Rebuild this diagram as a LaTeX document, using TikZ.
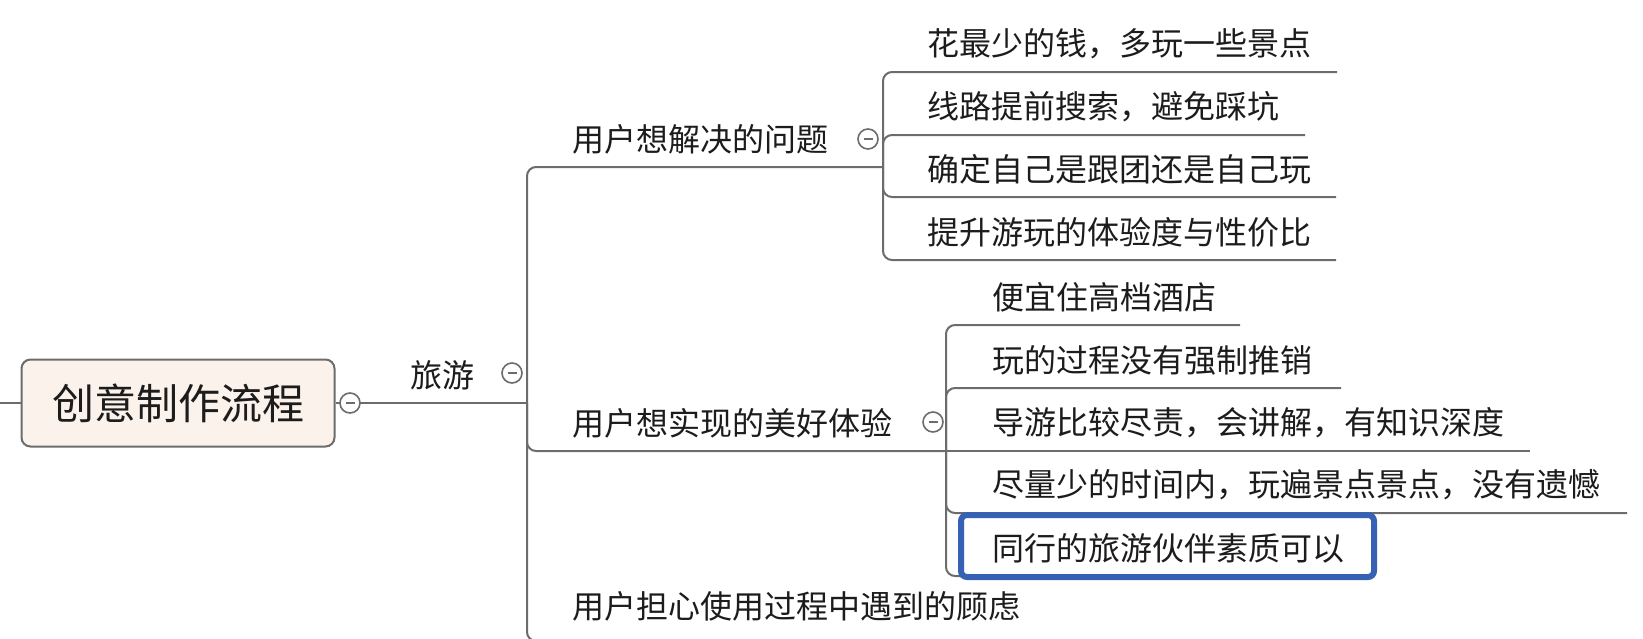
\documentclass[tikz,border=0pt]{standalone}
\usepackage{fontspec}
\newfontfamily\cjk{Noto Sans CJK SC}
\definecolor{lncol}{RGB}{108,108,108}
\definecolor{txtcol}{RGB}{28,28,28}
\definecolor{rootfill}{RGB}{251,243,235}
\definecolor{hlblue}{RGB}{55,98,180}
\begin{document}
\begin{tikzpicture}[x=1pt,y=-1pt,
  ln/.style={draw=lncol, line width=2pt, rounded corners=9pt},
  txt/.style={anchor=west, inner sep=0pt, font=\cjk\fontsize{32}{38}\selectfont, text=txtcol},
  rootbox/.style={rectangle, rounded corners=9pt, draw=lncol, line width=2pt, fill=rootfill,
    minimum width=313pt, minimum height=87pt, inner sep=0pt, text=txtcol,
    font=\cjk\fontsize{42}{48}\selectfont},
  coll/.style={circle, draw=lncol, line width=1.6pt, fill=white, minimum size=20pt, inner sep=0pt,
    path picture={\draw[lncol, line width=1.4pt]
      ([xshift=-4.5pt]path picture bounding box.center) -- ([xshift=4.5pt]path picture bounding box.center);}},
  hlbox/.style={rectangle, rounded corners=6pt, draw=hlblue, line width=6pt, fill=white,
    minimum width=413pt, minimum height=62pt, inner sep=0pt}
  ]
\useasboundingbox (0,0) rectangle (1643,638);

% root and level 1
\coordinate (lstub) at (0,403);
\node[rootbox] (root) at (178,403) {创意制作流程};
\coordinate (j1) at (527,403);
\coordinate (p1) at (883,167);
\coordinate (p2) at (946,451);
\coordinate (p3end) at (545,641);

% branch 1 ends
\coordinate (e11) at (1337,72);
\coordinate (e12) at (1305,135);
\coordinate (e13) at (1336,197);
\coordinate (e14) at (1336,260);
% branch 2 ends
\coordinate (e21) at (1240,325);
\coordinate (e22) at (1341,388);
\coordinate (e23) at (1530,451);
\coordinate (e24) at (1627,513);
\coordinate (e25) at (1372,576);

% connectors
\draw[ln] (lstub) -- (root.west);
\draw[ln] (root.east) -- (j1);
\draw[ln] (j1) |- (p1);
\draw[ln] (j1) |- (p2);
\draw[ln] (j1) |- (p3end);

\draw[ln] (p1) |- (e11);
\draw[ln] (p1) |- (e12);
\draw[ln] (p1) |- (e13);
\draw[ln] (p1) |- (e14);

\draw[ln] (p2) |- (e21);
\draw[ln] (p2) |- (e22);
\draw[ln] (p2) -- (e23);
\draw[ln] (p2) |- (e24);
\draw[ln] (p2) |- (e25);

% collapse icons
\node[coll] (c0) at (350,403) {};
\node[coll] (c1) at (512,373) {};
\node[coll] (c2) at (868,139) {};
\node[coll] (c3) at (933,422) {};

% highlight box
\node[hlbox] (hl) at (1167.5,546) {};

% texts
\node[txt] (lvyou) at (410,375) {旅游};
\node[txt] (q1) at (572,139) {用户想解决的问题};
\node[txt] (q2) at (572,423) {用户想实现的美好体验};
\node[txt] (q3) at (572,606) {用户担心使用过程中遇到的顾虑};

\node[txt] (a1) at (927,44) {花最少的钱，多玩一些景点};
\node[txt] (a2) at (927,107) {线路提前搜索，避免踩坑};
\node[txt] (a3) at (927,169) {确定自己是跟团还是自己玩};
\node[txt] (a4) at (927,232) {提升游玩的体验度与性价比};

\node[txt] (b1) at (992,297) {便宜住高档酒店};
\node[txt] (b2) at (992,360) {玩的过程没有强制推销};
\node[txt] (b3) at (992,423) {导游比较尽责，会讲解，有知识深度};
\node[txt] (b4) at (992,485) {尽量少的时间内，玩遍景点景点，没有遗憾};
\node[txt] (b5) at (992,548) {同行的旅游伙伴素质可以};
\end{tikzpicture}
\end{document}
